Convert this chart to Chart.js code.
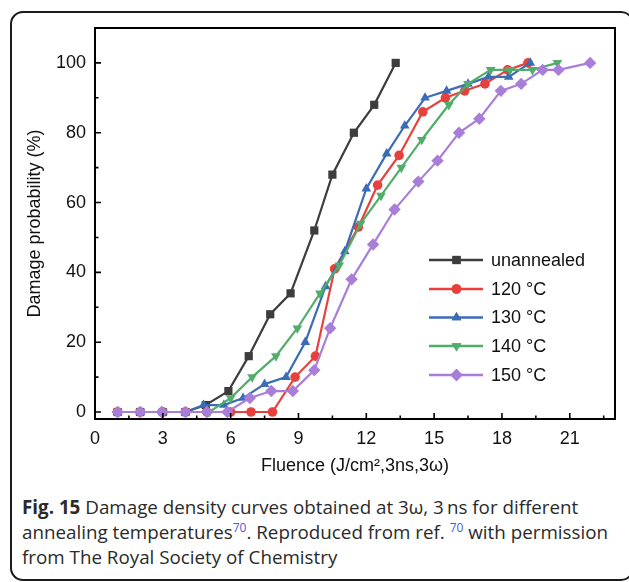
<!DOCTYPE html>
<html>
<head>
<meta charset="utf-8">
<script src="https://cdn.jsdelivr.net/npm/chart.js@4.4.1/dist/chart.umd.min.js"></script>
<style>
  html, body { margin: 0; padding: 0; background: #fff; }
  body { width: 629px; height: 582px; position: relative; overflow: hidden; }
  #frame { position: absolute; left: 10px; top: 11px; width: 624px; height: 570px;
           border: 2px solid #1a1a1a; border-radius: 13px; box-sizing: border-box; }
  #wrap { position: absolute; left: 0; top: 0; width: 629px; height: 480px; }
  #caption { position: absolute; left: 22px; top: 495px; width: 604px; white-space: nowrap;
             font-family: "Open Sans", sans-serif; font-size: 18.8px; line-height: 25px; color: #2a2a2a; }
  #caption b { font-weight: 700; }
  #caption sup { color: #4b5bd8; font-size: 12px; vertical-align: 7px; line-height: 0; }
</style>
</head>
<body>
<div id="frame"></div>
<div id="wrap"><canvas id="c" width="629" height="480"></canvas></div>
<div id="caption"><b>Fig. 15</b> Damage density curves obtained at 3ω, 3&#8201;ns for different<br>annealing temperatures<sup>70</sup>. Reproduced from ref. <sup>70</sup> with permission<br>from The Royal Society of Chemistry</div>
<script>
// ---- data ----
const seriesNames = ["unannealed", "120 °C", "130 °C", "140 °C", "150 °C"];

const xUnannealed = [1.0, 2.0, 3.0, 4.0, 4.9, 5.9, 6.8, 7.75, 8.65, 9.7, 10.5, 11.45, 12.35, 13.3];
const yUnannealed = [0, 0, 0, 0, 2, 6, 16, 28, 34, 52, 68, 80, 88, 100];

const x120 = [1.0, 2.0, 3.0, 4.0, 4.95, 6.0, 6.9, 7.85, 8.85, 9.75, 10.6, 11.65, 12.5, 13.45, 14.5, 15.5, 16.35, 17.25, 18.25, 19.15];
const y120 = [0, 0, 0, 0, 0, 0, 0, 0, 10, 16, 41, 53, 65, 73.5, 86, 90, 92, 94, 98, 100];

const x130 = [1.0, 2.0, 3.0, 4.0, 4.8, 5.7, 6.55, 7.5, 8.45, 9.3, 10.2, 11.05, 12.0, 12.9, 13.7, 14.6, 15.55, 16.5, 17.4, 18.3, 19.25];
const y130 = [0, 0, 0, 0, 2, 2, 4, 8, 10, 20, 36, 46, 64, 74, 82, 90, 92, 94, 96, 96, 100];

const x140 = [1.0, 2.0, 3.0, 4.0, 5.05, 6.0, 6.95, 8.0, 8.95, 9.95, 10.8, 11.75, 12.65, 13.55, 14.45, 15.65, 16.5, 17.5, 18.35, 19.35, 20.45];
const y140 = [0, 0, 0, 0, 0, 4, 10, 16, 24, 34, 42, 54, 62, 70, 78, 88, 94, 98, 98, 98, 100];

const x150 = [1.0, 2.0, 2.95, 4.0, 4.95, 5.85, 6.85, 7.8, 8.75, 9.7, 10.4, 11.35, 12.3, 13.25, 14.3, 15.15, 16.1, 17.0, 17.95, 18.85, 19.8, 20.5, 21.9];
const y150 = [0, 0, 0, 0, 0, 0, 4, 6, 6, 12, 24, 38, 48, 58, 66, 72, 80, 84, 92, 94, 98, 98, 100];

const xTicks = [0, 3, 6, 9, 12, 15, 18, 21];
const xMinorTicks = [1.5, 4.5, 7.5, 10.5, 13.5, 16.5, 19.5, 22.5];
const yTicks = [0, 20, 40, 60, 80, 100];
const yMinorTicks = [10, 30, 50, 70, 90];

// ---- styling ----
const colors = ["#3d3d3d", "#e8403d", "#3b6db6", "#51ad6a", "#a97ed8"];
const styles = ["rect", "circle", "triangle", "triangle", "rectRot"];
const rotations = [0, 0, 0, 180, 0];
const radii = [5.8, 4.8, 5.6, 5.6, 6.2];

const toPts = (xs, ys) => xs.map((x, i) => ({ x: x, y: ys[i] }));
const xs = [xUnannealed, x120, x130, x140, x150];
const ys = [yUnannealed, y120, y130, y140, y150];

const datasets = seriesNames.map((name, i) => ({
  label: name,
  data: toPts(xs[i], ys[i]),
  borderColor: colors[i],
  backgroundColor: colors[i],
  borderWidth: 2.2,
  pointStyle: styles[i],
  rotation: rotations[i],
  pointRadius: radii[i],
  pointBorderWidth: 0,
  pointHoverRadius: radii[i],
  tension: 0,
  order: 4 - i,
  clip: false
}));

const FONT = "'Liberation Sans', Arial, Helvetica, sans-serif";

const framePlugin = {
  id: 'framePlugin',
  afterDatasetsDraw(chart) {
    const { ctx, chartArea: a, scales } = chart;
    const xs_ = scales.x, ys_ = scales.y;
    ctx.save();
    ctx.strokeStyle = "#000";
    ctx.lineWidth = 2;
    ctx.strokeRect(a.left, a.top, a.right - a.left, a.bottom - a.top);
    ctx.lineWidth = 1.6;
    ctx.beginPath();
    xTicks.forEach(v => { const p = xs_.getPixelForValue(v); ctx.moveTo(p, a.bottom); ctx.lineTo(p, a.bottom - 6); });
    xMinorTicks.forEach(v => { const p = xs_.getPixelForValue(v); ctx.moveTo(p, a.bottom); ctx.lineTo(p, a.bottom - 3.5); });
    yTicks.forEach(v => { const p = ys_.getPixelForValue(v); ctx.moveTo(a.left, p); ctx.lineTo(a.left + 6, p); });
    yMinorTicks.forEach(v => { const p = ys_.getPixelForValue(v); ctx.moveTo(a.left, p); ctx.lineTo(a.left + 3.5, p); });
    ctx.stroke();

    // legend (line + marker + label)
    const lx0 = 429, lx1 = 483, mx = 456.5, tx = 491;
    const rowY = [260, 289, 317.5, 346, 375];
    chart.data.datasets.forEach((ds, i) => {
      const y = rowY[i];
      ctx.strokeStyle = ds.borderColor;
      ctx.lineWidth = 2.4;
      ctx.beginPath(); ctx.moveTo(lx0, y); ctx.lineTo(lx1, y); ctx.stroke();
      ctx.fillStyle = ds.backgroundColor;
      Chart.helpers.drawPoint(ctx, { pointStyle: ds.pointStyle, rotation: ds.rotation, radius: ds.pointRadius, borderWidth: 0 }, mx, y);
      ctx.fill();
      ctx.fillStyle = "#111";
      ctx.font = "18px " + FONT;
      ctx.textBaseline = "middle";
      ctx.textAlign = "left";
      ctx.fillText(ds.label, tx, y + 1);
    });
    ctx.restore();
  }
};

new Chart(document.getElementById('c'), {
  type: 'line',
  data: { datasets: datasets },
  options: {
    responsive: false,
    animation: false,
    events: [],
    layout: { padding: { left: 0, top: 28, right: 14, bottom: 0 } },
    plugins: { legend: { display: false }, tooltip: { enabled: false } },
    scales: {
      x: {
        type: 'linear', min: 0, max: 23,
        afterBuildTicks: s => { s.ticks = xTicks.map(v => ({ value: v })); },
        afterFit: s => { s.height = 61; },
        grid: { display: false, drawTicks: false },
        border: { display: false },
        ticks: { color: "#111", font: { family: FONT, size: 18 }, padding: 9, maxRotation: 0, autoSkip: false },
        title: { display: true, text: "Fluence (J/cm²,3ns,3ω)", color: "#111", font: { family: FONT, size: 18 }, padding: { top: 0, bottom: 3 } }
      },
      y: {
        type: 'linear', min: -2, max: 110,
        afterBuildTicks: s => { s.ticks = yTicks.map(v => ({ value: v })); },
        afterFit: s => { s.width = 95; },
        grid: { display: false, drawTicks: false },
        border: { display: false },
        ticks: { color: "#111", font: { family: FONT, size: 18 }, padding: 9 },
        title: { display: true, text: "Damage probability (%)", color: "#111", font: { family: FONT, size: 18 }, padding: { top: 24, bottom: 0 } }
      }
    }
  },
  plugins: [framePlugin]
});
</script>
</body>
</html>
